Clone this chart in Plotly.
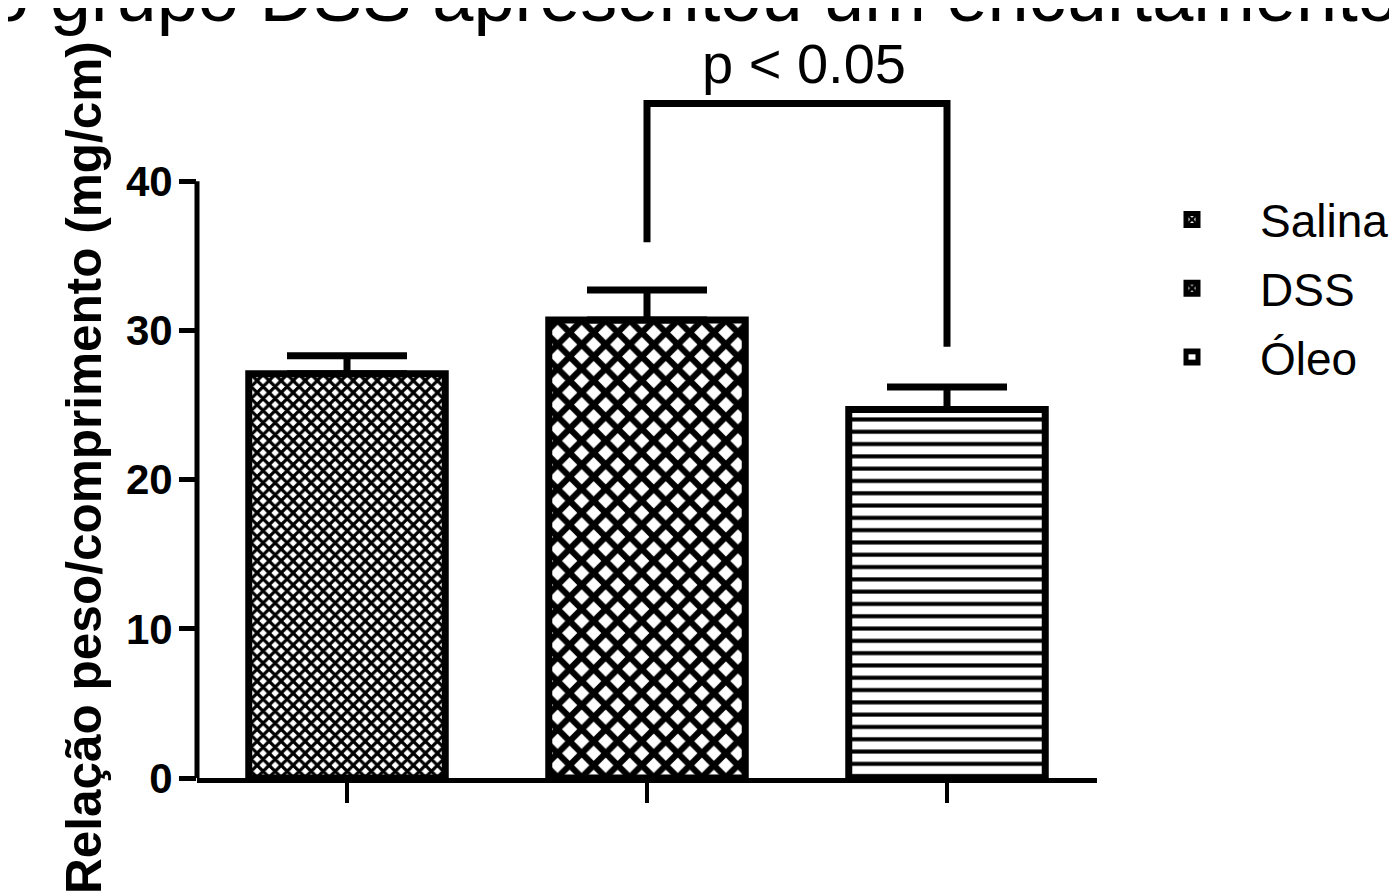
import plotly.graph_objects as go

# ---- data ----
categories = ["Salina", "DSS", "Óleo"]
means = [27.1, 30.7, 24.7]
sem = [1.2, 2.0, 1.5]
patterns = ["x", "x", "-"]
pattern_sizes = [8.5, 17, 12.3]
pattern_solid = [0.6, 0.6, 0.33]

y_ticks = [0, 10, 20, 30, 40]
y_range = [0, 50]

# significance bracket (DSS vs Óleo)
bracket_x = ["DSS", "DSS", "Óleo", "Óleo"]
bracket_y = [35.9, 45.2, 45.2, 28.9]
sig_text = "p < 0.05"

title_text = "o grupo DSS apresentou um encurtamento"
y_title = "Relação peso/comprimento (mg/cm)"

FONT = "Arial, Liberation Sans, sans-serif"

fig = go.Figure()
for i, cat in enumerate(categories):
    fig.add_trace(go.Bar(
        x=[cat], y=[means[i]], name=cat,
        legendgroup=cat,
        width=0.655,
        marker=dict(
            color="white",
            line=dict(color="black", width=7),
            pattern=dict(shape=patterns[i], size=pattern_sizes[i],
                         solidity=pattern_solid[i], fgcolor="black",
                         bgcolor="white", fillmode="replace"),
        ),
        error_y=dict(type="data", array=[sem[i]], arrayminus=[0],
                     symmetric=False, color="black", thickness=7, width=60),
    ))

fig.add_trace(go.Scatter(
    x=bracket_x, y=bracket_y, mode="lines",
    line=dict(color="black", width=7), showlegend=False, hoverinfo="skip",
))

fig.add_annotation(x=1.5, y=bracket_y[1], xref="x", yref="y",
                   text=sig_text, showarrow=False, xanchor="center", yanchor="bottom",
                   xshift=7, yshift=7,
                   font=dict(family=FONT, size=56, color="black"))

# y-axis line only up to the last tick
fig.add_shape(type="line", xref="paper", yref="y", x0=0, x1=0,
              y0=y_ticks[0], y1=y_ticks[-1],
              line=dict(color="black", width=5))

# y-axis title
fig.add_annotation(xref="paper", yref="paper", x=(84 - 197) / 900, y=(778 - 468) / 746,
                   xanchor="center", yanchor="middle",
                   text="<b>" + y_title + "</b>", textangle=-90, showarrow=False,
                   font=dict(family=FONT, size=49.5, color="black"))

# cut-off heading at the top
fig.add_annotation(xref="paper", yref="paper", x=(693 - 197) / 900, y=1,
                   xanchor="center", yanchor="middle", yshift=37,
                   text=title_text, showarrow=False,
                   font=dict(family=FONT, size=74, color="black"))

# the page body adds an 8px offset; compensate so the plot area sits at (197, 32)
fig.update_layout(
    width=1389, height=886,
    margin=dict(l=189, r=300, t=24, b=116, autoexpand=False),
    plot_bgcolor="white", paper_bgcolor="white",
    showlegend=True,
    barmode="overlay",
    legend=dict(x=(1124 - 197) / 900, y=1 - (183 - 32) / 746,
                xanchor="left", yanchor="top",
                itemwidth=126,
                font=dict(family=FONT, size=46, color="black"),
                tracegroupgap=6, traceorder="grouped",
                bgcolor="rgba(0,0,0,0)"),
    font=dict(family=FONT, color="black"),
)

fig.update_xaxes(type="category", range=[-0.5, 2.5], showline=True,
                 linecolor="black", linewidth=5, ticks="outside", ticklen=20,
                 tickwidth=4, tickcolor="black", showticklabels=False,
                 showgrid=False, zeroline=False, automargin=False)
fig.update_yaxes(range=y_range, showline=False, tickvals=y_ticks,
                 ticktext=["<b>%d</b>" % v for v in y_ticks],
                 ticks="outside", ticklen=17, tickwidth=5, tickcolor="black",
                 ticklabelstandoff=-2,
                 tickfont=dict(family=FONT, size=42, color="black"),
                 showgrid=False, zeroline=False, automargin=False)

fig.write_html("out.html")
